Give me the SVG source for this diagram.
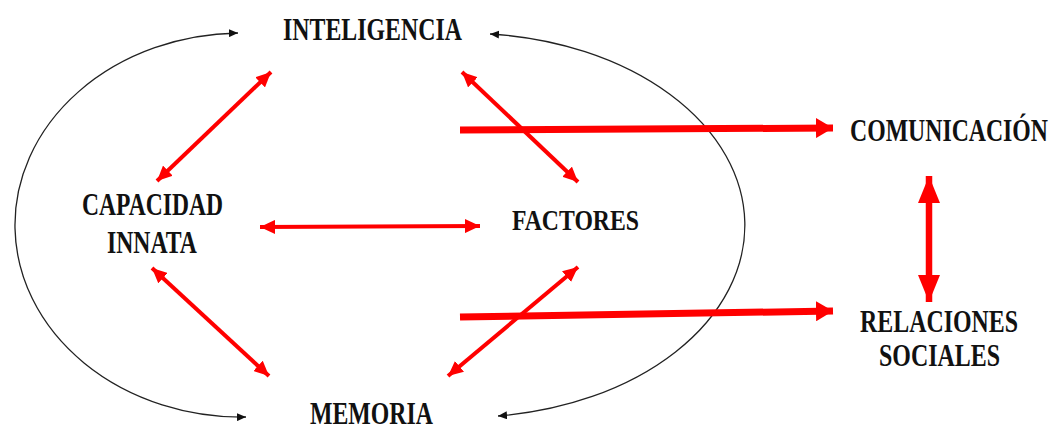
<svg xmlns="http://www.w3.org/2000/svg" width="1055" height="430" viewBox="0 0 1055 430">
<style>
  .lbl { font-family: "Liberation Serif", "Times New Roman", serif; font-weight: bold; font-size: 24px; fill: #111; }
  .arc { fill: none; stroke: #222; stroke-width: 1.3; marker-start: url(#bh); marker-end: url(#bh); }
  .thin { fill: none; stroke: #ff0000; stroke-width: 4; marker-start: url(#rh); marker-end: url(#rh); }
  .thick { fill: none; stroke: #ff0000; stroke-width: 7; marker-end: url(#rhb); }
  .vert { fill: none; stroke: #ff0000; stroke-width: 6.5; marker-start: url(#rhv); marker-end: url(#rhv); }
</style>
<defs>
  <marker id="bh" markerUnits="userSpaceOnUse" markerWidth="10" markerHeight="8" refX="9" refY="4" orient="auto-start-reverse" viewBox="0 0 10 8">
    <path d="M0,0 L9,4 L0,8 Z" fill="#111"/>
  </marker>
  <marker id="rh" markerUnits="userSpaceOnUse" markerWidth="16" markerHeight="14" refX="15" refY="7" orient="auto-start-reverse" viewBox="0 0 16 14">
    <path d="M0,0 L15,7 L0,14 Z" fill="#ff0000"/>
  </marker>
  <marker id="rhb" markerUnits="userSpaceOnUse" markerWidth="18" markerHeight="20" refX="17" refY="10" orient="auto" viewBox="0 0 18 20">
    <path d="M0,0 L17,10 L0,20 Z" fill="#ff0000"/>
  </marker>
  <marker id="rhv" markerUnits="userSpaceOnUse" markerWidth="28" markerHeight="22" refX="27" refY="11" orient="auto-start-reverse" viewBox="0 0 28 22">
    <path d="M0,0 L27,11 L0,22 Z" fill="#ff0000"/>
  </marker>
</defs>
<g id="connectors">
  <path class="arc" d="M238,33 A227 192 0 0 0 246,417"/>
  <path class="arc" d="M490,34 A279 192 0 0 1 498,416"/>
  <line class="thin" x1="271" y1="72" x2="157" y2="181"/>
  <line class="thin" x1="462" y1="72" x2="578" y2="182"/>
  <line class="thin" x1="260" y1="227" x2="480" y2="226"/>
  <line class="thin" x1="152" y1="268" x2="269" y2="376"/>
  <line class="thin" x1="578" y1="267" x2="448" y2="376"/>
  <line class="thick" x1="460" y1="130" x2="833" y2="128"/>
  <line class="thick" x1="460" y1="317" x2="833" y2="311"/>
  <line class="vert" x1="929" y1="176" x2="929" y2="302"/>
</g>
<g id="inteligencia" transform="translate(283,40) scale(1,1.34)"><text class="lbl" x="0" y="0" textLength="179" lengthAdjust="spacingAndGlyphs">INTELIGENCIA</text></g>
<g id="capacidad-innata">
  <g transform="translate(82,215) scale(1,1.3)"><text class="lbl" x="0" y="0" textLength="141" lengthAdjust="spacingAndGlyphs">CAPACIDAD</text></g>
  <g transform="translate(107,253) scale(1,1.3)"><text class="lbl" x="0" y="0" textLength="90" lengthAdjust="spacingAndGlyphs">INNATA</text></g>
</g>
<g id="factores" transform="translate(512,230) scale(1,1.25)"><text class="lbl" x="0" y="0" textLength="127" lengthAdjust="spacingAndGlyphs">FACTORES</text></g>
<g id="memoria" transform="translate(310,424) scale(1,1.3)"><text class="lbl" x="0" y="0" textLength="123" lengthAdjust="spacingAndGlyphs">MEMORIA</text></g>
<g id="comunicacion" transform="translate(850,141) scale(1,1.32)"><text class="lbl" x="0" y="0" textLength="198" lengthAdjust="spacingAndGlyphs">COMUNICACIÓN</text></g>
<g id="relaciones-sociales">
  <g transform="translate(860,332) scale(1,1.32)"><text class="lbl" x="0" y="0" textLength="158" lengthAdjust="spacingAndGlyphs">RELACIONES</text></g>
  <g transform="translate(879,366) scale(1,1.32)"><text class="lbl" x="0" y="0" textLength="121" lengthAdjust="spacingAndGlyphs">SOCIALES</text></g>
</g>
</svg>
